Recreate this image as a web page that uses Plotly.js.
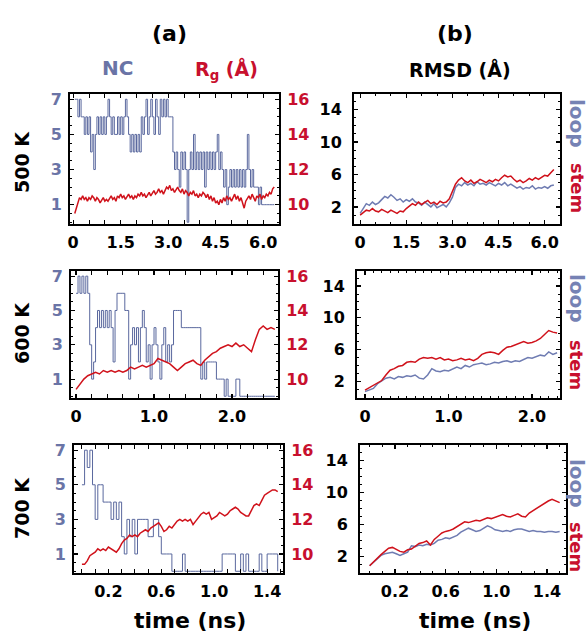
<!DOCTYPE html>
<html><head><meta charset="utf-8">
<script src="https://cdn.plot.ly/plotly-3.0.1.min.js"></script>
<style>html,body{margin:0;padding:0;background:#fff}#chart{width:588px;height:636px}</style>
</head><body><div id="chart"></div>
<script>
// time sampling grid (start, step, count) of each trajectory
function grid(t0, dt, n){const a=[];for(let i=0;i<n;i++)a.push(+(t0+i*dt).toFixed(3));return a;}

// ---- 500 K ----
const t500nc = grid(0.05, 0.05, 127);
const nc500 = [7,7,6,7,6,6,5,6,5,6, 4,5,3,5,6,5,6,5,6,5, 6,7,6,5,6,5,5,6,5,6, 5,6,7,6,5,4,5,4,5,4,
  5,4,6,5,6,7,5,6,7,6, 5,7,6,5,7,6,7,6,7,6, 6,6,4,3,4,3,2,4,3,4, 3,0,3,4,3,5,3,4,3,4,
  3,4,2,4,3,4,3,4,3,4, 5,3,4,3,2,3,1,2,3,2, 3,2,3,2,3,2,3,2,3,5, 3,2,3,2,2,2,1,2,1,1, 1,1,1,1,1,1,1];
const rg500 = [9.5,9.8,10.2,10.4,10.3,10.5,10.3,10.4,10.2,10.4, 10.3,10.5,10.4,10.2,10.4,10.3,10.1,10.3,10.4,10.2,
  10.3,10.2,10.4,10.5,10.3,10.4,10.2,10.5,10.4,10.6, 10.4,10.5,10.3,10.5,10.6,10.4,10.5,10.3,10.5,10.4,
  10.6,10.5,10.7,10.5,10.6,10.4,10.6,10.7,10.5,10.7, 10.8,10.6,10.7,10.9,10.7,10.8,10.6,10.8,11.0,10.9,
  11.1,10.8,10.9,10.7,10.9,11.0,10.8,10.7,10.9,10.6, 10.8,10.7,10.5,10.7,10.6,10.8,10.5,10.6,10.4,10.6,
  10.5,10.7,10.6,10.4,10.6,10.3,10.5,10.2,10.4,10.1, 10.2,10.0,10.3,10.1,10.4,10.2,10.5,10.3,10.4,10.2,
  10.4,10.6,10.3,10.5,10.2,10.4,10.1,9.8,10.2,10.4, 10.5,10.3,10.6,10.4,10.2,10.5,10.4,10.6,10.3,10.5,
  10.4,10.6,10.5,10.7,10.6,10.9,11.0];
const t500rmsd = grid(0, 0.1, 64);
const stem500 = [1.0,1.3,1.6,1.5,1.8,1.5,1.4,1.7,1.5,1.3, 1.6,1.4,1.2,1.5,1.4,1.8,2.1,2.4,2.2,2.6,
  2.3,2.5,2.8,2.4,2.6,2.3,2.7,2.5,2.6,3.0, 3.8,4.8,5.3,5.6,5.2,5.0,5.3,4.9,5.1,5.4,
  5.2,5.0,5.3,5.1,5.4,5.2,5.6,5.9,5.7,5.8, 5.4,5.1,5.3,5.0,5.2,5.5,5.3,5.6,5.4,5.7, 5.9,5.8,6.2,6.6];
const loop500 = [1.2,1.8,2.4,2.2,2.6,2.3,2.5,2.9,3.3,3.1, 3.5,3.2,2.8,3.0,2.6,2.9,2.7,3.0,2.6,2.5,
  2.2,2.6,2.3,2.0,2.4,1.9,2.1,2.3,2.0,2.5, 3.2,4.4,4.8,4.6,5.0,4.7,4.9,4.6,5.1,4.8,
  4.9,4.7,5.0,4.8,4.6,4.9,4.7,5.0,4.6,4.8, 4.5,4.3,4.5,4.2,4.4,4.3,4.6,4.2,4.4,4.3, 4.5,4.3,4.6,4.7];

// ---- 600 K ----
const t600nc = grid(0, 0.025, 103);
const nc600 = [6,7,6,7,6,7,6,3, 1,2,4,5,4,5,4,5, 4,5,4,2,5,6,6,6, 6,5,5,1,3,4,3,4, 2,4,5,4,2,3,1,3,
  4,3,2,1,3,4,2,3, 2,3,5,5,5,5,4,4, 4,4,4,4,4,4,4,4, 1,2,1,2,2,2,2,2, 1,1,1,1,0,1,0,0,
  0,0,1,1,0,0,0,0, 0,0,0,0,0,0,0,0, 0,0,0,0,0,0,0];
const t600rg = grid(0, 0.05, 52);
const rg600 = [9.4,9.7,10.0,10.2,10.3,10.4,10.3,10.5,10.4,10.5, 10.4,10.5,10.4,10.5,10.7,10.6,10.7,10.8,10.7,10.8,
  10.9,11.2,11.1,11.0,10.9,10.7,10.5,10.7,10.9,11.0, 11.1,10.9,10.8,11.1,11.3,11.5,11.6,11.8,11.9,12.0,
  11.9,12.1,11.9,12.0,11.8,11.6,12.3,12.9,13.1,12.9, 13.0,12.9];
const t600rmsd = grid(0, 0.05, 47);
const stem600 = [0.9,1.2,1.6,1.8,2.1,2.8,3.4,3.6,3.9,4.0, 4.4,4.5,4.4,4.8,5.0,4.9,5.0,4.8,5.0,4.7,
  4.8,4.6,4.7,4.9,4.7,4.8,4.6,4.9,5.4,5.6, 5.7,5.6,5.4,5.9,6.3,6.4,6.6,6.9,7.0,6.8, 6.9,7.1,7.4,7.9,8.4,8.2,8.1];
const loop600 = [0.7,0.9,1.1,1.7,2.1,2.4,2.5,2.3,2.6,2.5, 2.7,2.6,2.8,2.4,2.3,2.8,3.6,3.3,3.2,3.4,
  3.3,3.6,3.8,3.6,4.0,3.8,4.1,4.2,4.3,4.1, 4.2,4.4,4.3,4.5,4.6,4.4,4.6,4.5,4.8,5.0, 4.9,5.1,5.3,5.2,5.7,5.4,5.6];

// ---- 700 K ----
const t700 = grid(0, 0.02, 75);
const nc700 = [5,7,6,7,5,3,5,5,4,4, 4,3,4,3,4,2,1,3,2,3, 1,3,3,3,3,2,2,3,3,2, 1,1,1,1,0,0,0,0,1,0,
  0,0,0,0,0,0,0,0,0,0, 0,0,0,1,1,1,1,1,0,0, 1,0,1,0,0,0,0,1,0,0, 1,1,1,1,0];
const rg700 = [9.4,9.4,9.6,9.9,10.0,10.1,10.3,10.2,10.3,10.2, 10.4,10.3,10.2,10.1,10.3,10.6,10.8,10.9,11.1,11.0,
  11.1,11.0,11.2,11.3,11.4,11.3,11.5,11.6,11.7,11.8, 11.6,11.3,11.4,11.6,11.5,11.7,11.9,12.0,11.9,12.0,
  11.9,12.0,11.7,11.9,12.1,12.3,12.4,12.3,12.4,12.0, 12.1,12.2,12.4,12.3,12.2,12.3,12.5,12.6,12.7,12.6,
  12.4,12.3,12.2,12.2,12.5,12.8,12.9,12.8,13.1,13.4, 13.5,13.6,13.7,13.7,13.6];
const t700rmsd = grid(0, 0.03, 51);
const stem700 = [0.8,1.3,1.8,2.2,2.6,3.0,3.1,2.8,2.6,2.5, 2.8,2.9,3.3,3.6,3.7,3.9,3.4,4.1,4.5,4.9,
  5.1,5.2,5.4,5.7,6.0,6.3,6.2,6.4,6.5,6.4, 6.6,6.8,6.7,6.9,7.0,7.2,7.0,6.9,7.1,7.3,
  7.0,6.9,7.4,7.7,8.1,8.4,8.7,8.9,9.1,8.9, 8.7];
const loop700 = [0.8,1.2,1.7,2.1,2.3,2.4,2.5,2.3,2.1,2.3, 2.5,3.3,3.2,3.4,3.3,3.5,3.4,3.6,4.0,4.1,
  4.3,4.2,4.4,4.6,5.0,5.3,5.5,5.3,5.1,5.2, 5.5,5.8,5.6,5.3,5.2,5.1,5.2,5.1,5.3,5.4,
  5.4,5.2,5.1,5.2,5.1,5.1,5.0,5.1,5.1,5.0, 5.1];

// tick labels
const ncTicks = [1,3,5,7];
const rgTicks = [10,12,14,16];
const rmsdTicks = [2,6,10,14];
const x500Ticks = [0,1.5,3.0,4.5,6.0], x500Text = ['0','1.5','3.0','4.5','6.0'];
const x600Ticks = [0,1.0,2.0], x600Text = ['0','1.0','2.0'];
const x700Ticks = [0.2,0.6,1.0,1.4], x700Text = ['0.2','0.6','1.0','1.4'];

const F = 'DejaVu Sans, Liberation Sans, Arial, sans-serif';
const BLUE = '#5a689e', LOOPC = '#6f7cb2', RED = '#d0121b';
const BLUE_T = '#6a74a6', RED_T = '#c8102e';

const W = 588, H = 636;
const px = v => v / W, py = v => 1 - v / H;

function frame(extra){
  return Object.assign({
    showline:true, linecolor:'#000', linewidth:2, ticks:'inside', ticklen:4, tickwidth:1.2,
    tickcolor:'#000', showgrid:false, zeroline:false, fixedrange:true,
    tickfont:{family:F, size:16, weight:'bold', color:'#000'},
    minor:{ticks:'inside', ticklen:2, tickcolor:'#000', tickwidth:1}
  }, extra);
}
function xax(domain, range, vals, text, anchor){
  return frame({domain:domain, range:range, tickmode:'array', tickvals:vals, ticktext:text,
    mirror:'allticks', anchor:anchor, ticklabelstandoff:3});
}

const rows = [[94,224],[271,398],[445,573]];
const aX = [[70,279],[71,278],[74,283]];
const bX = [[354,560],[357,560],[360,566]];
const NCR = [-0.1, 7.3], RGR = [8.9, 16.3], RMR = [-0.1, 15.9];

const layout = {
  width:W, height:H, margin:{l:0,r:0,t:0,b:0}, paper_bgcolor:'#fff', plot_bgcolor:'#fff',
  showlegend:false, font:{family:F},
  xaxis:  xax([px(aX[0][0]),px(aX[0][1])], [-0.1,6.5], x500Ticks, x500Text, 'y'),
  xaxis2: xax([px(bX[0][0]),px(bX[0][1])], [-0.2,6.5], x500Ticks, x500Text, 'y3'),
  xaxis3: xax([px(aX[1][0]),px(aX[1][1])], [-0.065,2.59], x600Ticks, x600Text, 'y4'),
  xaxis4: xax([px(bX[1][0]),px(bX[1][1])], [-0.096,2.335], x600Ticks, x600Text, 'y6'),
  xaxis5: xax([px(aX[2][0]),px(aX[2][1])], [-0.06,1.52], x700Ticks, x700Text, 'y7'),
  xaxis6: xax([px(bX[2][0]),px(bX[2][1])], [-0.076,1.55], x700Ticks, x700Text, 'y9')
};
const ncAx = (r, xa) => frame({domain:[py(rows[r][1]), py(rows[r][0])], range:NCR, tickmode:'array', tickvals:ncTicks,
  anchor:xa, side:'left', tickfont:{family:F, size:16, weight:'bold', color:BLUE_T}, ticklabelstandoff:3});
const rgAx = (r, xa, ov) => frame({domain:[py(rows[r][1]), py(rows[r][0])], range:RGR, tickmode:'array', tickvals:rgTicks,
  anchor:xa, overlaying:ov, side:'right', tickfont:{family:F, size:16, weight:'bold', color:RED_T}, ticklabelstandoff:3});
const rmAx = (r, xa) => frame({domain:[py(rows[r][1]), py(rows[r][0])], range:RMR, tickmode:'array', tickvals:rmsdTicks,
  anchor:xa, mirror:'allticks', ticklabelstandoff:7});
layout.yaxis  = ncAx(0,'x');  layout.yaxis2 = rgAx(0,'x','y');  layout.yaxis3 = rmAx(0,'x2');
layout.yaxis4 = ncAx(1,'x3'); layout.yaxis5 = rgAx(1,'x3','y4'); layout.yaxis6 = rmAx(1,'x4');
layout.yaxis7 = ncAx(2,'x5'); layout.yaxis8 = rgAx(2,'x5','y7'); layout.yaxis9 = rmAx(2,'x6');

const ann = (text, x, y, size, color, angle, extra) => Object.assign({text:text, xref:'paper', yref:'paper',
  x:px(x), y:py(y), xanchor:'center', yanchor:'middle', showarrow:false, textangle:angle||0,
  font:{family:F, size:size, color:color, weight:'bold'}}, extra||{});
layout.annotations = [
  ann('(a)', 169, 33, 22, '#000'),
  ann('(b)', 455, 33, 22, '#000'),
  ann('NC', 117, 68, 20, BLUE_T),
  ann('R<sub>g</sub> (Å)', 226, 70, 19, RED_T),
  ann('RMSD (Å)', 460, 70, 19, '#000'),
  ann('500 K', 22, 162, 19, '#000', -90),
  ann('600 K', 22, 333, 19, '#000', -90),
  ann('700 K', 22, 508, 19, '#000', -90),
  ann('loop', 577, 123, 20, '#7682b4', 90),
  ann('stem', 577, 188, 18, RED_T, 90),
  ann('loop', 577, 298, 20, '#7682b4', 90),
  ann('stem', 577, 365, 18, RED_T, 90),
  ann('loop', 577, 483, 20, '#7682b4', 90),
  ann('stem', 577, 547, 18, RED_T, 90),
  ann('time (ns)', 190, 620, 22, '#000'),
  ann('time (ns)', 475, 620, 22, '#000')
];

const ncLine = (x, y, xa, ya) => ({x:x, y:y, xaxis:xa, yaxis:ya, type:'scatter', mode:'lines',
  line:{color:BLUE, width:1, shape:'hv'}, hoverinfo:'skip'});
const ln = (x, y, xa, ya, c, w) => ({x:x, y:y, xaxis:xa, yaxis:ya, type:'scatter', mode:'lines',
  line:{color:c, width:w}, hoverinfo:'skip'});

const data = [
  ncLine(t500nc, nc500, 'x', 'y'),
  ln(t500nc, rg500, 'x', 'y2', RED, 1.5),
  ln(t500rmsd, loop500, 'x2', 'y3', LOOPC, 1.5),
  ln(t500rmsd, stem500, 'x2', 'y3', RED, 1.5),
  ncLine(t600nc, nc600, 'x3', 'y4'),
  ln(t600rg, rg600, 'x3', 'y5', RED, 1.5),
  ln(t600rmsd, loop600, 'x4', 'y6', LOOPC, 1.5),
  ln(t600rmsd, stem600, 'x4', 'y6', RED, 1.5),
  ncLine(t700, nc700, 'x5', 'y7'),
  ln(t700, rg700, 'x5', 'y8', RED, 1.5),
  ln(t700rmsd, loop700, 'x6', 'y9', LOOPC, 1.5),
  ln(t700rmsd, stem700, 'x6', 'y9', RED, 1.5)
];

Plotly.newPlot('chart', data, layout, {staticPlot:true, displayModeBar:false});
</script>
</body></html>
